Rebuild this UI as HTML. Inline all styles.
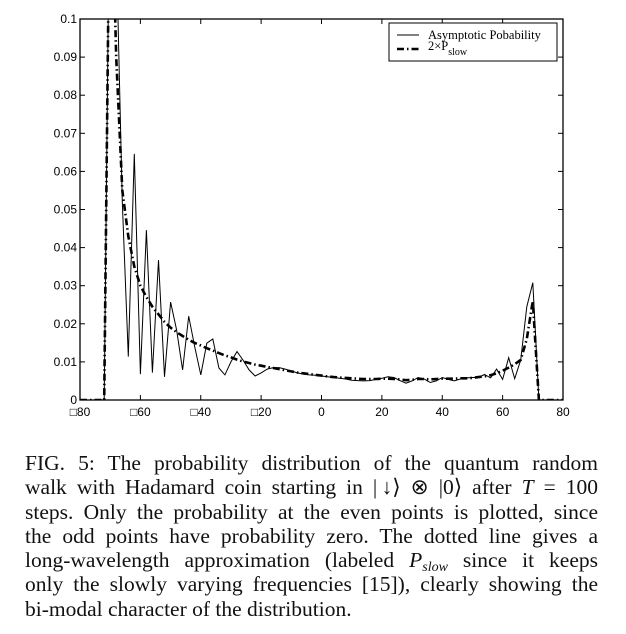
<!DOCTYPE html>
<html><head><meta charset="utf-8">
<style>
body{margin:0;background:#fff;width:626px;height:634px;overflow:hidden;position:relative;font-family:"Liberation Serif",serif}
.cap{position:absolute;left:25px;width:573px;top:451px;font-size:21.5px;line-height:24.3px;color:#111}
.cap div{text-align:justify;text-align-last:justify;white-space:nowrap;height:24.3px}
.cap sub{font-size:14px;line-height:0;vertical-align:-4px}
</style></head><body>
<svg width="626" height="440" style="position:absolute;left:0;top:0" font-family="Liberation Sans, sans-serif">
<defs><clipPath id="clip"><rect x="80" y="19" width="483" height="381"/></clipPath></defs>
<g id="axes"></g>
<g id="series" clip-path="url(#clip)"></g>
<rect x="80" y="19" width="483" height="381" fill="none" stroke="#000" stroke-width="1.3"/>
<g>
<rect x="389" y="23" width="168" height="38" fill="#fff" stroke="#000" stroke-width="1"/>
<line x1="397" y1="35" x2="419" y2="35" stroke="#000" stroke-width="1"/>
<text x="428" y="39" font-family="Liberation Serif, serif" font-size="12.5">Asymptotic Pobability</text>
<line x1="397" y1="49" x2="419" y2="49" stroke="#000" stroke-width="2.5" stroke-dasharray="7,3,1.5,3"/>
<text x="428" y="50" font-family="Liberation Serif, serif" font-size="12.5">2×P<tspan font-size="10" dy="5">slow</tspan></text>
</g>
</svg>
<div class="cap">
<div>FIG. 5: The probability distribution of the quantum random</div>
<div>walk with Hadamard coin starting in |&#8201;↓⟩ ⊗ |0⟩ after <i>T</i> = 100</div>
<div>steps. Only the probability at the even points is plotted, since</div>
<div>the odd points have probability zero. The dotted line gives a</div>
<div>long-wavelength approximation (labeled <i>P<sub>slow</sub></i> since it keeps</div>
<div>only the slowly varying frequencies [15]), clearly showing the</div>
<div style="text-align-last:left">bi-modal character of the distribution.</div>
</div>
<script>
const xPositions=[-80,-78,-76,-74,-72,-70,-68,-66,-64,-62,-60,-58,-56,-54,-52,-50,-48,-46,-44,-42,-40,-38,-36,-34,-32,-30,-28,-26,-24,-22,-20,-18,-16,-14,-12,-10,-8,-6,-4,-2,0,2,4,6,8,10,12,14,16,18,20,22,24,26,28,30,32,34,36,38,40,42,44,46,48,50,52,54,56,58,60,62,64,66,68,70,72,74,76,78,80];
const asymptotic=[0,0,0,0,0,0.15,0.12,0.052,0.0114,0.0646,0.0068,0.0446,0.0072,0.0367,0.0061,0.0257,0.0184,0.0079,0.022,0.014,0.0066,0.0149,0.016,0.0084,0.0066,0.010,0.0127,0.0105,0.0079,0.0063,0.0071,0.0081,0.0085,0.0085,0.0081,0.0076,0.0071,0.0068,0.0066,0.0065,0.0063,0.0061,0.0059,0.0057,0.0055,0.0052,0.0051,0.0050,0.0051,0.0054,0.0057,0.0061,0.0059,0.0051,0.0044,0.0050,0.0059,0.0055,0.0046,0.0050,0.0059,0.0054,0.0050,0.0055,0.0058,0.0059,0.0059,0.0067,0.0058,0.0081,0.0054,0.0111,0.0056,0.0105,0.0245,0.0308,0,0,0,0,0];
const pSlow=[0,0,0,0,0,0.15,0.09,0.055,0.043,0.035,0.030,0.027,0.0245,0.0225,0.0205,0.019,0.0178,0.0168,0.0158,0.015,0.0143,0.0136,0.013,0.0123,0.0117,0.0112,0.0106,0.0101,0.0097,0.0093,0.009,0.0087,0.0084,0.0081,0.0078,0.0075,0.0072,0.007,0.0068,0.0066,0.0064,0.0062,0.006,0.0059,0.0058,0.0057,0.0056,0.0055,0.0055,0.0055,0.0056,0.0056,0.0055,0.0054,0.0052,0.0053,0.0055,0.0055,0.0054,0.0055,0.0056,0.0056,0.0056,0.0057,0.0057,0.0058,0.006,0.0062,0.0065,0.007,0.0077,0.0085,0.0094,0.0105,0.016,0.026,0,0,0,0,0];
const xTicks=[-80,-60,-40,-20,0,20,40,60,80];
const xTickLabels=["□80","□60","□40","□20","0","20","40","60","80"];
const yTicks=[0,0.01,0.02,0.03,0.04,0.05,0.06,0.07,0.08,0.09,0.1];
const yTickLabels=["0","0.01","0.02","0.03","0.04","0.05","0.06","0.07","0.08","0.09","0.1"];
const NS="http://www.w3.org/2000/svg";
const X=v=>80+(v+80)*483/160;
const Y=v=>400-v*3810;
const axes=document.getElementById('axes'),series=document.getElementById('series');
function mk(t,a,p){const e=document.createElementNS(NS,t);for(const k in a)e.setAttribute(k,a[k]);p.appendChild(e);return e;}
xTicks.forEach((t,i)=>{
  mk('line',{x1:X(t),x2:X(t),y1:400,y2:395,stroke:'#000'},axes);
  mk('line',{x1:X(t),x2:X(t),y1:19,y2:24,stroke:'#000'},axes);
  const tx=mk('text',{x:X(t),y:416,'text-anchor':'middle','font-size':12},axes);
  tx.textContent=xTickLabels[i];
  
  
});
yTicks.forEach((t,i)=>{
  mk('line',{x1:80,x2:85,y1:Y(t),y2:Y(t),stroke:'#000'},axes);
  mk('line',{x1:563,x2:558,y1:Y(t),y2:Y(t),stroke:'#000'},axes);
  const tx=mk('text',{x:77,y:Y(t)+4,'text-anchor':'end','font-size':12},axes);
  tx.textContent=yTickLabels[i];
  
  
});
const pts=a=>a.map((v,i)=>X(xPositions[i]).toFixed(1)+','+Y(v).toFixed(1)).join(' ');
const l1=mk('polyline',{points:pts(asymptotic),fill:'none',stroke:'#000','stroke-width':1},series);


const l2=mk('polyline',{points:pts(pSlow),fill:'none',stroke:'#000','stroke-width':2.6,'stroke-dasharray':'7,3,1.5,3'},series);


</script>
</body></html>
